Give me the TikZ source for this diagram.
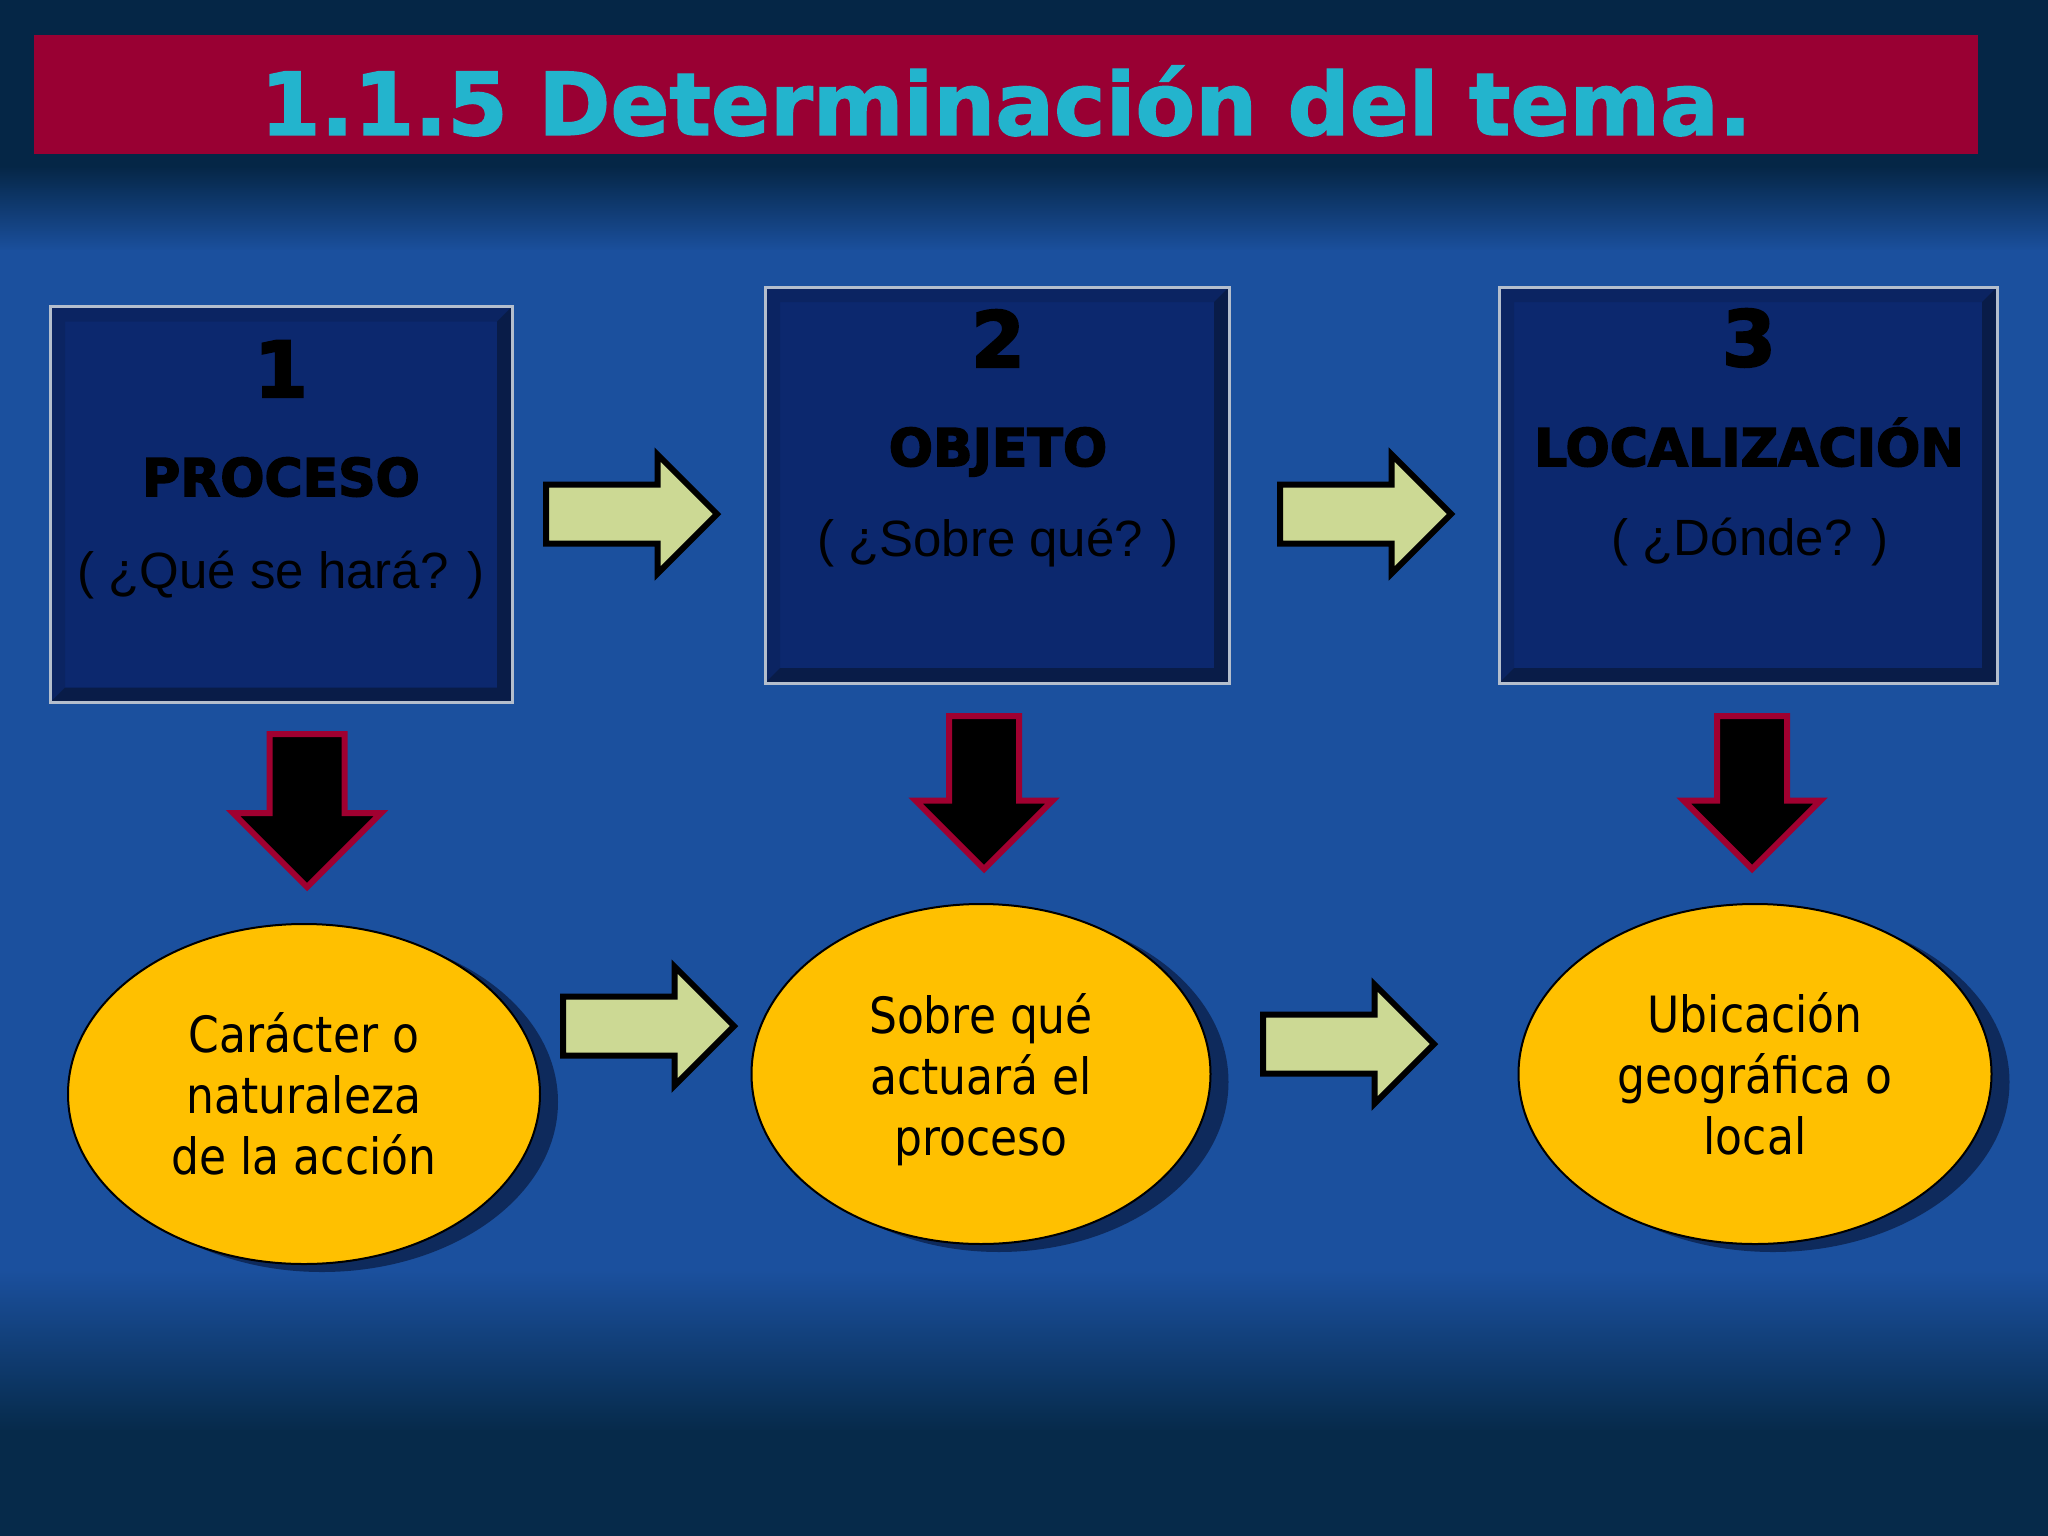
\documentclass[tikz,border=0pt]{standalone}
\usepackage{fontspec}
\setmainfont{Liberation Sans}
\newfontfamily\titlefont[FakeBold=1.5]{DejaVu Sans Bold}
\newfontfamily\heavyfont[FakeBold=3]{DejaVu Sans Bold}
\newfontfamily\ovalfont[FakeStretch=0.88]{DejaVu Sans}
\usetikzlibrary{shapes.geometric,shapes.arrows,shadows,calc}

\definecolor{bgtop}{RGB}{5,38,70}
\definecolor{bgblue}{RGB}{27,80,158}
\definecolor{bgbot}{RGB}{6,42,74}
\definecolor{titlered}{RGB}{153,0,51}
\definecolor{titlecyan}{RGB}{35,180,205}
\definecolor{boxblue}{RGB}{12,40,110}
\definecolor{boxedge}{RGB}{180,190,205}
\definecolor{bevdark}{RGB}{9,28,72}
\definecolor{bevside}{RGB}{11,36,98}
\definecolor{ovalyellow}{RGB}{255,192,0}
\definecolor{ovalshadow}{RGB}{14,42,92}
\definecolor{arrowgreen}{RGB}{204,217,148}
\definecolor{arrowred}{RGB}{160,0,48}

\tikzset{
  stepbox/.style={draw=boxedge, line width=3pt, fill=boxblue, minimum height=396pt,
    inner sep=0pt, outer sep=0pt,
    path picture={
      \fill[bevside] (path picture bounding box.south west) -- (path picture bounding box.north west)
        -- (path picture bounding box.north east) -- ($(path picture bounding box.north east)+(-15,15)$)
        -- ($(path picture bounding box.north west)+(15,15)$) -- ($(path picture bounding box.south west)+(15,-15)$) -- cycle;
      \fill[bevdark] (path picture bounding box.north east) -- (path picture bounding box.south east)
        -- (path picture bounding box.south west) -- ($(path picture bounding box.south west)+(15,-15)$)
        -- ($(path picture bounding box.south east)+(-15,-15)$) -- ($(path picture bounding box.north east)+(-15,15)$) -- cycle;
    }},
  numtext/.style={anchor=base, inner sep=0pt, font=\heavyfont\fontsize{77}{77}\selectfont},
  headtext/.style={anchor=base, inner sep=0pt, font=\heavyfont\fontsize{52}{52}\selectfont},
  asktext/.style={anchor=base, inner sep=0pt, font=\fontsize{51}{51}\selectfont},
  oval/.style={ellipse, draw=black, line width=2pt, fill=ovalyellow, minimum height=340pt,
    inner sep=0pt, outer sep=0pt, align=center, font=\ovalfont\fontsize{50}{61}\selectfont,
    drop shadow={shadow xshift=18pt, shadow yshift=-8pt, fill=ovalshadow, opacity=1}},
  rightarrow/.style={single arrow, draw=black, line width=6pt, fill=arrowgreen, anchor=tail,
    minimum height=171pt, minimum width=113pt, inner sep=26.5pt, outer sep=0pt,
    single arrow head extend=30pt, single arrow tip angle=90},
  downarrow/.style={single arrow, shape border rotate=270, draw=arrowred, line width=6pt, fill=black,
    anchor=tail, minimum height=153pt, minimum width=131pt, inner sep=32pt, outer sep=0pt,
    single arrow head extend=33.5pt, single arrow tip angle=90}
}

\begin{document}
\begin{tikzpicture}[x=1pt, y=-1pt]
% fondo
\fill[bgtop] (0,0) rectangle (2048,168);
\shade[top color=bgtop, bottom color=bgblue] (0,166) rectangle (2048,252);
\fill[bgblue] (0,250) rectangle (2048,1272);
\shade[top color=bgblue, bottom color=bgbot] (0,1270) rectangle (2048,1432);
\fill[bgbot] (0,1430) rectangle (2048,1536);
\useasboundingbox (0,0) rectangle (2048,1536);

% titulo
\node[fill=titlered, minimum width=1944pt, minimum height=119pt, inner sep=0pt] (bar) at (1006,94.5) {};
\node[anchor=base, inner sep=0pt, text=titlecyan, font=\titlefont\fontsize{87}{87}\selectfont] (title) at (1006,135) {1.1.5 Determinación del tema.};

% cajas
\node[stepbox, minimum width=462pt] (box1) at (281,504.5) {};
\node[stepbox, minimum width=464pt] (box2) at (997,485) {};
\node[stepbox, minimum width=498pt] (box3) at (1748,485) {};

\node[numtext] (num1) at (281,397) {1};
\node[headtext] (head1) at (281,496) {PROCESO};
\node[asktext] (ask1) at (281,588) {( ¿Qué se hará? )};

\node[numtext] (num2) at (998,367) {2};
\node[headtext] (head2) at (998,466) {OBJETO};
\node[asktext] (ask2) at (998,556) {( ¿Sobre qué? )};

\node[numtext] (num3) at (1749,366) {3};
\node[headtext] (head3) at (1749,466) {LOCALIZACIÓN};
\node[asktext] (ask3) at (1750,555) {( ¿Dónde? )};

% flechas
\node[rightarrow] (next1) at (546,514) {};
\node[rightarrow] (next2) at (1280,514) {};
\node[rightarrow] (next3) at (563,1026) {};
\node[rightarrow] (next4) at (1263,1044) {};

\node[downarrow, minimum width=142pt, inner sep=34.5pt, single arrow head extend=36.5pt] (down1) at (307,734) {};
\node[downarrow] (down2) at (984,716) {};
\node[downarrow] (down3) at (1752,716) {};

% ovalos
\node[oval, minimum width=472pt] (oval1) at (304,1094) {Carácter o\\naturaleza\\de la acción};
\node[oval, minimum width=459pt, text depth=0pt] (oval2) at (981,1074) {Sobre qué\\actuará el\\proceso};
\node[oval, minimum width=473pt] (oval3) at (1755,1074) {Ubicación\\geográfica o\\local};
\end{tikzpicture}
\end{document}
